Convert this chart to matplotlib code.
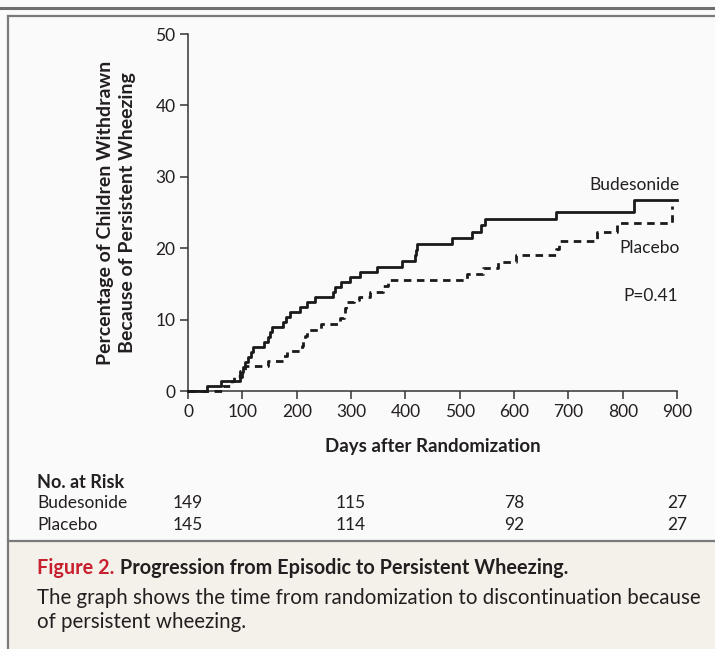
import matplotlib
matplotlib.use("Agg")
import matplotlib.pyplot as plt
from matplotlib.lines import Line2D

plt.rcParams["font.family"] = ["Lato", "DejaVu Sans"]

# Kaplan-Meier style step data (day, cumulative %)
bud_days = [0, 34, 60, 95, 99, 102, 105, 110, 115, 119, 139, 147, 151, 154,
            175, 181, 188, 206, 209, 218, 233, 267, 270, 282, 298, 316, 347,
            393, 418, 420, 421, 485, 522, 540, 546, 678, 821, 900]
bud_pct = [0, 0.7, 1.4, 2.0, 2.7, 3.4, 4.1, 4.8, 5.5, 6.2, 6.9, 7.6, 8.3, 9.0,
           9.7, 10.4, 11.1, 11.8, 11.8, 12.5, 13.1, 13.9, 14.5, 15.2, 15.9, 16.6, 17.4,
           18.2, 19.0, 19.8, 20.6, 21.4, 22.3, 23.2, 24.1, 25.1, 26.7, 26.7]

plc_days = [0, 65, 80, 85, 95, 105, 148, 175, 183, 210, 212, 215, 218, 245,
            280, 287, 289, 291, 305, 315, 335, 358, 368, 513, 542, 570, 603,
            678, 682, 752, 789, 888, 890]
plc_pct = [0, 0.7, 1.4, 2.1, 2.8, 3.5, 4.2, 4.9, 5.6, 6.3, 7.0, 7.7, 8.5, 9.4,
           10.2, 10.9, 11.6, 12.4, 12.8, 13.2, 13.9, 14.7, 15.6, 16.4, 17.2, 18.1, 19.0,
           19.9, 21.0, 22.3, 23.6, 23.6, 25.9]

risk_days = [0, 300, 600, 900]
risk_bud = [149, 115, 78, 27]
risk_plc = [145, 114, 92, 27]

txt = "#231f20"
fig = plt.figure(figsize=(7.15, 6.49), dpi=100)
fig.patch.set_facecolor("#fafafa")

# caption background
fig.patches.append(plt.Rectangle((0.0112, 0), 1, 0.1664, transform=fig.transFigure,
                                 facecolor="#f4f1ea", edgecolor="none", zorder=0))
# frame lines
fig.lines.append(Line2D([0, 1], [0.9877, 0.9877], transform=fig.transFigure, color="#6e6e6e", lw=2.2))
fig.lines.append(Line2D([0.0112, 1], [0.9753, 0.9753], transform=fig.transFigure, color="#7a7a7a", lw=1.6))
fig.lines.append(Line2D([0.0112, 0.0112], [0, 0.9753], transform=fig.transFigure, color="#7a7a7a", lw=1.6))
fig.lines.append(Line2D([0.0112, 1], [0.1664, 0.1664], transform=fig.transFigure, color="#7a7a7a", lw=1.6))

ax = fig.add_axes([0.263, 0.3975, 0.684, 0.5501])
ax.set_facecolor("none")
ax.step(bud_days, bud_pct, where="post", color="#1a1a1a", lw=2.0, clip_on=False, zorder=3)
ax.step(plc_days, plc_pct, where="post", color="#1a1a1a", lw=2.0, dashes=[2.7, 2.0],
        clip_on=False, zorder=3)

ax.set_xlim(0, 900)
ax.set_ylim(0, 50)
ax.set_xticks(range(0, 901, 100))
ax.set_yticks(range(0, 51, 10))
for s in ["top", "right"]:
    ax.spines[s].set_visible(False)
for s in ["left", "bottom"]:
    ax.spines[s].set_color("#333333")
    ax.spines[s].set_linewidth(1.1)
ax.tick_params(direction="out", length=6, width=1.1, color="#333333",
               labelsize=12.5, labelcolor=txt, pad=3)

ax.set_xlabel("Days after Randomization", fontsize=13.4, fontweight="bold", color=txt, labelpad=13)
fig.text(0.163, 0.6725, "Percentage of Children Withdrawn\nBecause of Persistent Wheezing",
         rotation=90, ha="center", va="center", fontsize=14, fontweight="bold",
         color=txt, linespacing=1.32)

ax.text(905, 28.9, "Budesonide", ha="right", va="center", fontsize=12.5, color=txt)
ax.text(905, 20.0, "Placebo", ha="right", va="center", fontsize=12.5, color=txt)
ax.text(902, 13.3, "P=0.41", ha="right", va="center", fontsize=12.5, color=txt)

# number at risk table
fig.text(0.052, 0.257, "No. at Risk", ha="left", va="center", fontsize=13,
         fontweight="bold", color=txt)
fig.text(0.052, 0.225, "Budesonide", ha="left", va="center", fontsize=12.5, color=txt)
fig.text(0.052, 0.191, "Placebo", ha="left", va="center", fontsize=12.5, color=txt)
tr = matplotlib.transforms.blended_transform_factory(ax.transData, fig.transFigure)
for d, b, p in zip(risk_days, risk_bud, risk_plc):
    ax.text(d, 0.225, str(b), transform=tr, ha="center", va="center", fontsize=12.5, color=txt)
    ax.text(d, 0.191, str(p), transform=tr, ha="center", va="center", fontsize=12.5, color=txt)

# caption
t1 = fig.text(0.052, 0.125, "Figure 2.", ha="left", va="center", fontsize=14.3,
              fontweight="bold", color="#c8202f")
fig.canvas.draw()
bb = t1.get_window_extent().transformed(fig.transFigure.inverted())
fig.text(bb.x1, 0.125, " Progression from Episodic to Persistent Wheezing.", ha="left",
         va="center", fontsize=14.3, fontweight="bold", color=txt)
fig.text(0.052, 0.0786, "The graph shows the time from randomization to discontinuation because",
         ha="left", va="center", fontsize=14.8, color=txt)
fig.text(0.052, 0.0416, "of persistent wheezing.", ha="left", va="center", fontsize=14.8, color=txt)

fig.savefig("out.png", dpi=100, facecolor=fig.get_facecolor())
